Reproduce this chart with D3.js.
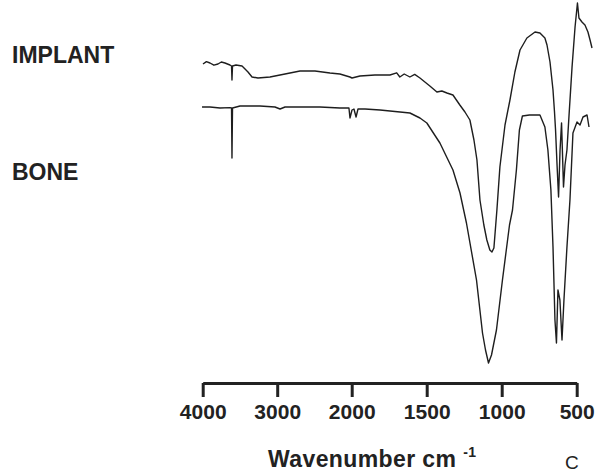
<!DOCTYPE html>
<html>
<head>
<meta charset="utf-8">
<script src="https://cdn.jsdelivr.net/npm/d3@7"></script>
<style>
  body { margin: 0; background: #fff; }
  svg { display: block; font-family: "Liberation Sans", Arial, Helvetica, sans-serif; }
</style>
</head>
<body>
<div id="chart"></div>
<script>
// wavenumber (cm-1) and transmittance (%)
const implantWn = [3996, 3950, 3902, 3850, 3795, 3750, 3701, 3634, 3613, 3607, 3600, 3553, 3472, 3392, 3338, 3258, 3097, 2895,
    2694, 2493, 2292, 2158, 2024, 1998, 1945, 1845, 1745, 1700, 1679, 1650, 1612, 1580, 1545, 1479, 1432, 1399, 1365, 1325,
    1279, 1245, 1212, 1185, 1165, 1145, 1119, 1099, 1079, 1065, 1052, 1032, 1012, 978, 945, 912, 878, 832,
    778, 745, 712, 698, 678, 658, 648, 641, 631, 621, 611, 601, 588, 578, 565, 551, 531, 511, 495, 485,
    465, 445, 425, 411, 398];
const implantT = [84, 84.6, 84.25, 83.7, 84, 84.5, 84.25, 83.75, 83.5, 80, 83.5, 83.75, 83.5, 82, 80.75, 80.5, 80.75, 81.5,
    82.25, 82.25, 81.75, 81.5, 80.75, 80.5, 81, 81.25, 81.25, 81.8, 80.75, 81.5, 80.75, 81.4, 80.5, 78.5, 77, 77.25, 76.75, 76.25,
    73.75, 72, 70, 65, 60, 50, 43.75, 40, 37.5, 37, 38, 47.5, 58.25, 68.75, 75, 82, 87.5, 90.5,
    92, 91.75, 90.5, 88.75, 84.5, 77.5, 72, 67.5, 58.75, 50.75, 62.5, 69.25, 53.25, 58.75, 62.5, 71.25, 83.25, 93.25, 99.25, 95.5,
    94.5, 93.75, 92, 90, 88];

const boneWn = [4009, 3902, 3768, 3634, 3613, 3607, 3600, 3499, 3231, 3030, 2962, 2895, 2694, 2426, 2158,
    2037, 2023, 1998, 1985, 1971, 1958, 1911, 1811, 1678, 1612, 1545, 1499, 1412, 1325, 1278, 1235, 1168,
    1128, 1108, 1088, 1068, 1035, 995, 948, 928, 902, 882, 862, 815, 745, 712, 692, 672, 658, 645, 635,
    625, 612, 598, 585, 565, 545, 525, 498, 478, 458, 431, 418];
const boneT = [73.25, 73.25, 73, 73.1, 73, 60.5, 73, 73.5, 73.5, 73.25, 72.75, 73.25, 73.25, 73.25, 73,
    73, 70.5, 72.5, 72.75, 70.75, 72.75, 72.75, 72.5, 72, 71.75, 70.5, 69.25, 64.25, 57.5, 51.75, 44.25, 30,
    16.75, 12.5, 9.25, 11.25, 17.5, 30, 43.75, 47.5, 57.5, 67.5, 71, 71.25, 71.25, 68.25, 62.5, 52.5, 38.25, 20, 14.25,
    27.5, 25, 15, 25, 38.25, 50, 66.75, 69.5, 68.75, 70.75, 71.25, 68.25];

const tickValues = [4000, 3000, 2000, 1500, 1000, 500];
const seriesLabels = ["IMPLANT", "BONE"];

const width = 606, height = 474;

const svg = d3.select("#chart")
    .append("svg")
    .attr("width", width)
    .attr("height", height);

// scale change at 2000 cm-1, like the instrument chart paper
const x = d3.scaleLinear()
    .domain([4000, 2000, 500])
    .range([202.7, 351.7, 576.7]);

const y = d3.scaleLinear()
    .domain([0, 100])
    .range([400, 0]);

const line = d3.line()
    .x(d => x(d[0]))
    .y(d => y(d[1]));

const implant = d3.zip(implantWn, implantT);
const bone = d3.zip(boneWn, boneT);

svg.selectAll("path.spectrum")
    .data([implant, bone])
    .enter()
    .append("path")
    .attr("class", "spectrum")
    .attr("d", line)
    .attr("fill", "none")
    .attr("stroke", "#1e1e1e")
    .attr("stroke-width", 1.4)
    .attr("stroke-linejoin", "round");

// axis
const axis = d3.axisBottom(x)
    .tickValues(tickValues)
    .tickSize(14)
    .tickSizeOuter(0)
    .tickPadding(7)
    .tickFormat(d3.format("d"));

const gx = svg.append("g")
    .attr("transform", "translate(0,383)")
    .call(axis);

gx.select(".domain")
    .attr("stroke", "#222")
    .attr("stroke-width", 3);
gx.selectAll(".tick line")
    .attr("stroke", "#222")
    .attr("stroke-width", 3);
gx.selectAll(".tick text")
    .attr("fill", "#222")
    .style("font-size", "21px")
    .style("font-weight", "bold");

// series labels
svg.selectAll("text.series")
    .data(seriesLabels)
    .enter()
    .append("text")
    .attr("class", "series")
    .attr("x", 12)
    .attr("y", (d, i) => i === 0 ? 63 : 180)
    .attr("fill", "#222")
    .style("font-size", "23px")
    .style("font-weight", "bold")
    .text(d => d);

// axis title
const title = svg.append("text")
    .attr("x", 268)
    .attr("y", 467)
    .attr("fill", "#222")
    .style("font-size", "23px")
    .style("font-weight", "bold")
    .style("letter-spacing", "0.4px")
    .text("Wavenumber cm ");
title.append("tspan")
    .attr("dy", -10)
    .style("font-size", "14px")
    .text("-1");

svg.append("text")
    .attr("x", 565)
    .attr("y", 469)
    .attr("fill", "#222")
    .style("font-size", "19px")
    .text("C");
</script>
</body>
</html>
